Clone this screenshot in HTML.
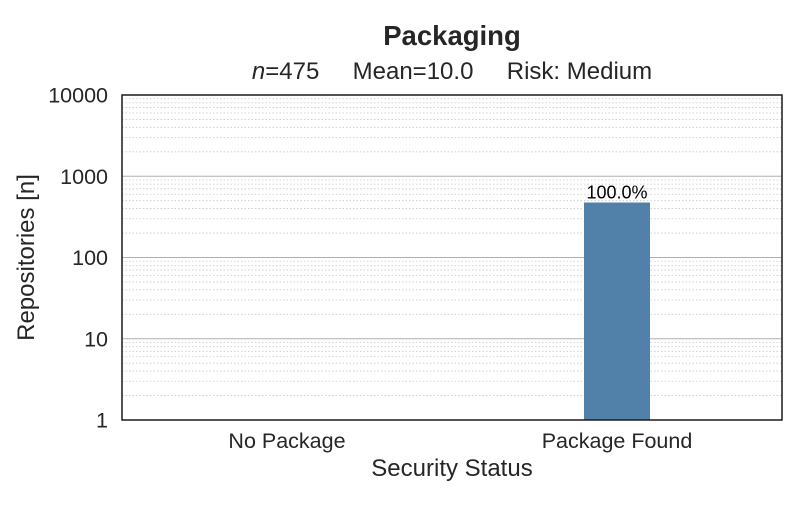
<!DOCTYPE html>
<html><head><meta charset="utf-8"><style>
body{margin:0;background:#fff;}
svg text{font-family:"Liberation Sans","DejaVu Sans",sans-serif;fill:#262626;white-space:pre;}
</style></head><body>
<svg id="chart" width="800" height="500" viewBox="0 0 800 500">
<rect width="800" height="500" fill="#fff"/>
<text x="452" y="45" text-anchor="middle" font-size="27.5" font-weight="bold">Packaging</text>
<text x="452" y="79" text-anchor="middle" font-size="24" xml:space="preserve"><tspan font-style="italic">n</tspan>=475     Mean=10.0     Risk: Medium</text>
<g id="grid"></g>
<g id="bars"></g>
<rect x="122" y="95" width="660" height="325" fill="none" stroke="#1a1a1a" stroke-width="1.5"/>
<g id="yticks"></g>
<g id="xticks"></g>
<text transform="translate(34,257.5) rotate(-90)" text-anchor="middle" font-size="24">Repositories [n]</text>
<text x="452" y="476" text-anchor="middle" font-size="24">Security Status</text>
</svg>
<script>
const categories = ["No Package", "Package Found"];
const values = [0, 475];
const labels = ["", "100.0%"];
const yTicks = [1, 10, 100, 1000, 10000];
const yTickLabels = ["1", "10", "100", "1000", "10000"];

const NS = "http://www.w3.org/2000/svg";
const L = 122, R = 782, T = 95, B = 420;
const yMin = 1, yMax = 10000;
function y(v){ return B - (Math.log10(v) - Math.log10(yMin)) / (Math.log10(yMax) - Math.log10(yMin)) * (B - T); }
const band = (R - L) / categories.length;
function xc(i){ return L + band * (i + 0.5); }
function mk(tag, attrs, parent){ const e = document.createElementNS(NS, tag); for (const k in attrs) e.setAttribute(k, attrs[k]); parent.appendChild(e); return e; }

const grid = document.getElementById("grid");
for (let d = 0; d < 4; d++) {
  for (let m = 2; m <= 9; m++) {
    const v = Math.pow(10, d) * m;
    const ln = mk("line", {x1: L, x2: R, y1: y(v), y2: y(v), stroke: "#c8c8c8", "stroke-width": 0.8, "stroke-dasharray": "1.5,2"}, grid);
    
    
  }
}
const yt = document.getElementById("yticks");
yTicks.forEach((v, i) => {
  const ln = mk("line", {x1: L, x2: R, y1: y(v), y2: y(v), stroke: "#b0b0b0", "stroke-width": 1}, grid);
  
  
  const t = mk("text", {x: 108, y: y(v) + 7.5, "text-anchor": "end", "font-size": 21.5}, yt);
  t.textContent = yTickLabels[i];
  
  
});
const bars = document.getElementById("bars");
const xt = document.getElementById("xticks");
const bw = band * 0.2;
categories.forEach((c, i) => {
  if (values[i] > 0) {
    const r = mk("rect", {x: xc(i) - bw / 2, y: y(values[i]), width: bw, height: B - y(values[i]), fill: "#5180a8"}, bars);
    
    
    const lt = mk("text", {x: xc(i), y: y(values[i]) - 4, "text-anchor": "middle", "font-size": 18, fill: "#000", style: "fill:#000"}, bars);
    lt.textContent = labels[i];
    
    
  }
  const t = mk("text", {x: xc(i), y: 448, "text-anchor": "middle", "font-size": 21.5}, xt);
  t.textContent = c;
  
  
});
</script>
</body></html>
